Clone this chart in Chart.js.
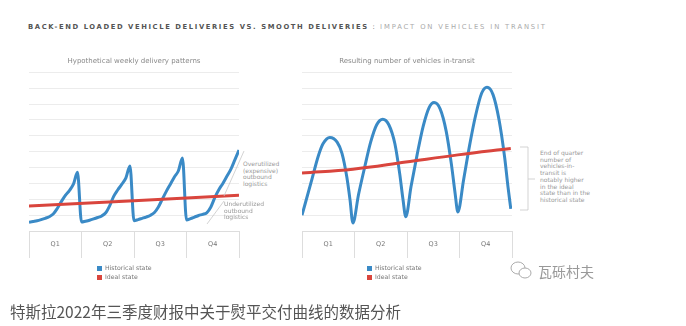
<!DOCTYPE html>
<html>
<head>
<meta charset="utf-8">
<script src="https://cdn.jsdelivr.net/npm/chart.js@4.4.0/dist/chart.umd.min.js"></script>
<style>
  body { margin: 0; background: #fff; width: 686px; height: 326px; position: relative; overflow: hidden; font-family: 'DejaVu Sans', sans-serif; }
  .abs { position: absolute; }
  .box { position: absolute; width: 214px; height: 209px; top: 50px; }
  #title { left: 28px; top: 23px; font-size: 6.8px; letter-spacing: 1.6px; white-space: nowrap; color: #555; }
  #title b { font-weight: bold; }
  #title span { color: #aaa; letter-spacing: 1.85px; }
  .note { font-size: 6px; line-height: 6.7px; color: #999; white-space: nowrap; }
  .legend { font-size: 6.2px; line-height: 9px; color: #777; white-space: nowrap; }
  .legend i { display: inline-block; width: 5px; height: 5px; margin-right: 3px; vertical-align: -0.5px; }
  #wx { left: 538px; top: 261px; font-size: 14px; color: #999; font-family: 'Noto Sans CJK SC'; }
  #caption { left: 10px; top: 300px; font-size: 15.5px; color: #555; font-family: 'Noto Sans CJK SC'; white-space: nowrap; }
</style>
</head>
<body>
<div id="title" class="abs"><b>BACK-END LOADED VEHICLE DELIVERIES VS. SMOOTH DELIVERIES</b> : <span>IMPACT ON VEHICLES IN TRANSIT</span></div>

<div class="box" style="left:27px"><canvas id="leftChart"></canvas></div>
<div class="box" style="left:300px"><canvas id="rightChart"></canvas></div>

<div class="abs note" style="left:243px; top:161px">Overutilized<br>(expensive)<br>outbound<br>logistics</div>
<div class="abs note" style="left:224px; top:201px">Underutilized<br>outbound<br>logistics</div>
<div class="abs note" style="left:540px; top:150px">End of quarter<br>number of<br>vehicles-in-<br>transit is<br>notably higher<br>in the ideal<br>state than in the<br>historical state</div>

<svg class="abs" style="left:0; top:0" width="686" height="326">
  <g stroke="#c8c8c8" stroke-width="0.8" fill="none">
    <line x1="244" y1="151" x2="224" y2="196"/>
    <line x1="224" y1="201" x2="207" y2="224"/>
    <polyline points="520,147 528,147 528,210 520,210"/>
    <line x1="528" y1="179" x2="535" y2="179"/>
  </g>
  <g stroke="#aaa" stroke-width="1" fill="#fff">
    <ellipse cx="518" cy="268" rx="7" ry="6"/>
    <ellipse cx="525" cy="273" rx="6" ry="5"/>
  </g>
</svg>

<div class="abs legend" style="left:97px; top:263px"><i style="background:#3a8ac6"></i>Historical state<br><i style="background:#d9453d"></i>Ideal state</div>
<div class="abs legend" style="left:367px; top:263px"><i style="background:#3a8ac6"></i>Historical state<br><i style="background:#d9453d"></i>Ideal state</div>

<div id="wx" class="abs">瓦砾村夫</div>
<div id="caption" class="abs">特斯拉2022年三季度财报中关于熨平交付曲线的数据分析</div>

<script>
const quarters = ['Q1', 'Q2', 'Q3', 'Q4'];

// left: weekly deliveries, week 0..52
const weeks = Array.from({ length: 53 }, (_, i) => i);
const historicalWeekly = [
    0.55, 0.6, 0.65, 0.72, 0.8, 0.9, 1.07, 1.42, 1.85, 2.25, 2.55, 2.95, 3.7,
    0.57, 0.62, 0.68, 0.76, 0.85, 0.95, 1.15, 1.6, 2.2, 2.6, 2.95, 3.35, 4.1,
    0.65, 0.72, 0.8, 0.88, 0.98, 1.15, 1.5, 2.0, 2.5, 2.95, 3.4, 3.8, 4.6,
    0.7, 0.78, 0.88, 0.98, 1.05, 1.15, 1.5, 2.1, 2.6, 3.0, 3.45, 3.9, 4.5, 5.1
];
const idealWeeks = [0, 52];
const idealWeekly = [1.57, 2.26];

// right: vehicles in transit
const transitWeeks = [0, 2.5, 4, 5.2, 6.9, 8.7, 9.9, 11.1, 11.9, 12.6,
    14, 15.5, 17, 18.5, 20, 21.5, 23, 24.2, 25, 25.7,
    27, 28.5, 30, 31.5, 32.7, 34.2, 35.7, 37, 37.9, 38.6,
    40, 41.5, 43, 44.5, 45.8, 47.3, 48.8, 50.2, 51, 51.7];
const historicalTransit = [1.0, 3.3, 4.7, 5.5, 5.9, 5.6, 4.9, 3.4, 1.95, 0.5,
    2.3, 4.0, 5.6, 6.7, 7.05, 6.7, 5.5, 3.6, 2.0, 0.9,
    2.8, 4.8, 6.6, 7.8, 8.1, 7.7, 6.3, 4.2, 2.4, 1.2,
    3.2, 5.4, 7.3, 8.7, 9.06, 8.6, 7.0, 4.6, 2.8, 1.4];
const idealTransitWeeks = [0, 12.6, 25.7, 38.6, 51.7];
const idealTransit = [3.65, 3.9, 4.35, 4.8, 5.2];

const blue = '#3a8ac6';
const red = '#d9453d';

Chart.defaults.font.family = "'DejaVu Sans', sans-serif";

function pts(xs, ys) {
    return xs.map((x, i) => ({ x: x, y: ys[i] }));
}

function makeChart(id, title, hx, hy, ix, iy) {
    const ctx = document.getElementById(id).getContext('2d');
    return new Chart(ctx, {
        type: 'line',
        data: {
            datasets: [{
                label: 'Ideal state',
                data: pts(ix, iy),
                borderColor: red,
                borderWidth: 3,
                pointRadius: 0,
                tension: 0.4
            }, {
                label: 'Historical state',
                data: pts(hx, hy),
                borderColor: blue,
                borderWidth: 3,
                pointRadius: 0,
                cubicInterpolationMode: 'monotone'
            }]
        },
        options: {
            responsive: true,
            maintainAspectRatio: false,
            animation: false,
            layout: { padding: { left: 2, right: 2, top: 0, bottom: 1 } },
            plugins: {
                legend: { display: false },
                tooltip: { enabled: false },
                title: {
                    display: true,
                    text: title,
                    color: '#888',
                    font: { size: 7, weight: 'normal' },
                    padding: { top: 7, bottom: 7 }
                }
            },
            scales: {
                x: {
                    type: 'linear',
                    display: false,
                    min: 0,
                    max: 52
                },
                q: {
                    type: 'category',
                    axis: 'x',
                    position: 'bottom',
                    labels: quarters,
                    offset: true,
                    grid: {
                        offset: true,
                        drawOnChartArea: false,
                        tickLength: 27,
                        color: '#ddd'
                    },
                    border: { display: true, color: '#ddd' },
                    ticks: {
                        color: '#777',
                        font: { size: 6.5 },
                        padding: -18
                    },
                    // the box under the plot holds the quarter labels
                    afterFit: (scale) => { scale.height = 27; }
                },
                y: {
                    min: 0,
                    max: 10,
                    ticks: { display: false, stepSize: 1 },
                    grid: { color: '#ececec', drawTicks: false },
                    border: { display: false }
                }
            }
        }
    });
}

makeChart('leftChart', 'Hypothetical weekly delivery patterns', weeks, historicalWeekly, idealWeeks, idealWeekly);
makeChart('rightChart', 'Resulting number of vehicles in-transit', transitWeeks, historicalTransit, idealTransitWeeks, idealTransit);
</script>
</body>
</html>
